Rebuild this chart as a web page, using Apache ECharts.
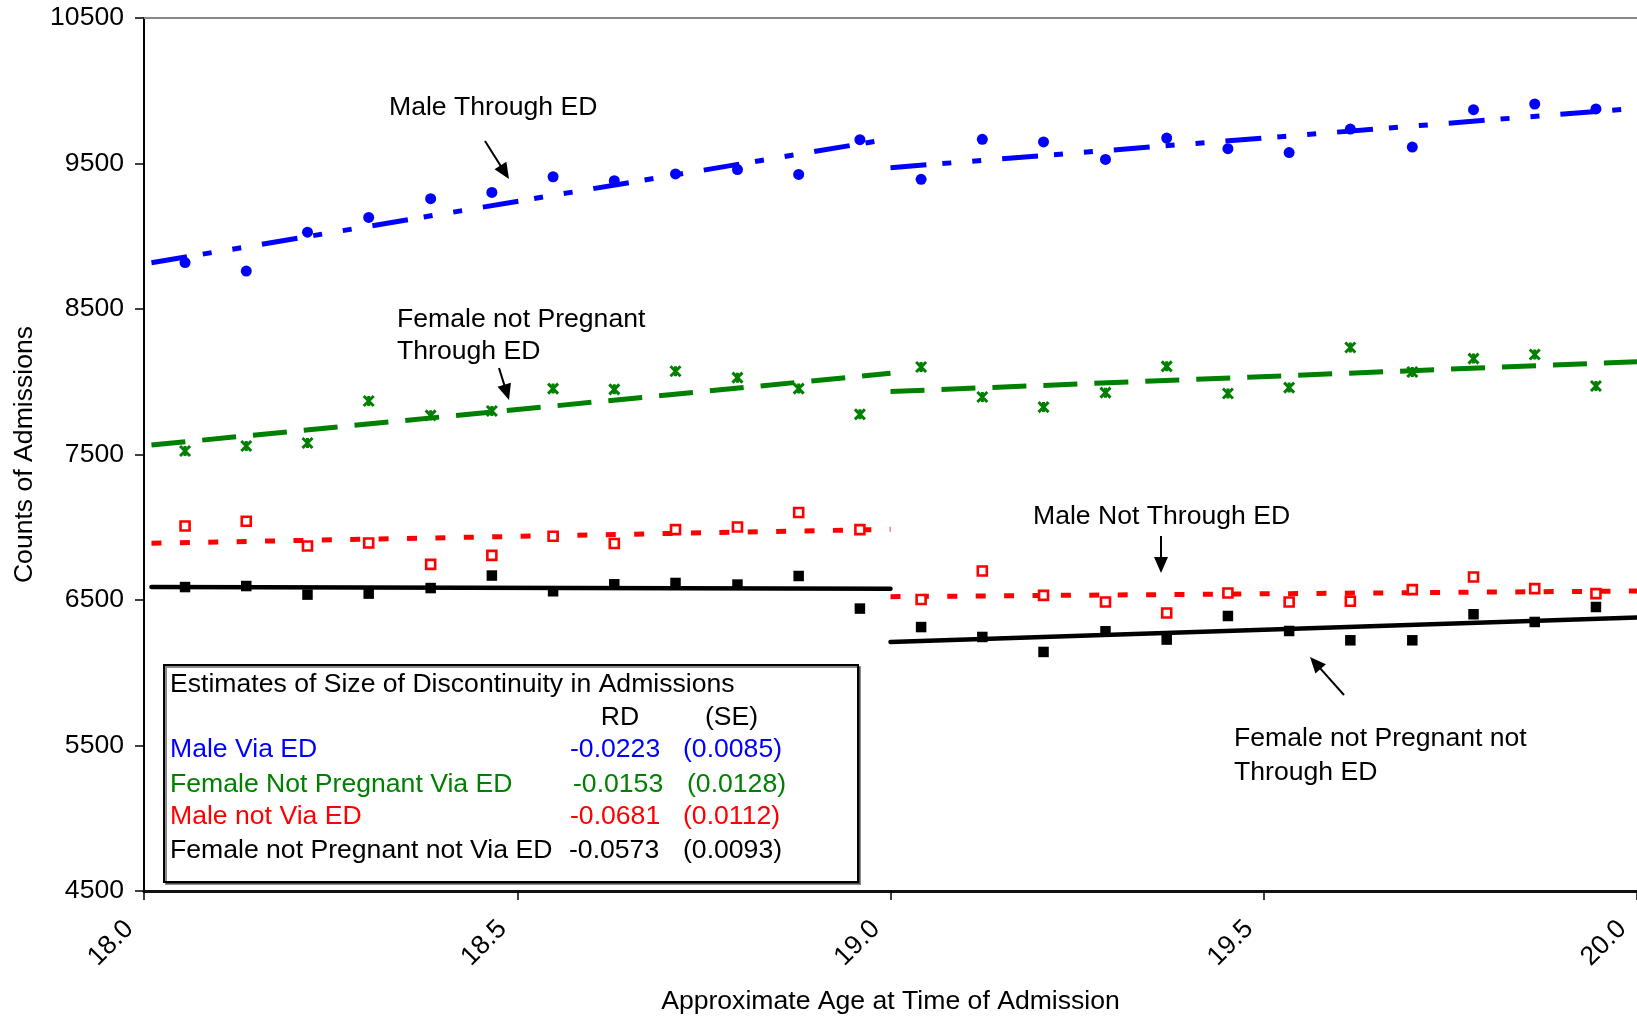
<!DOCTYPE html>
<html><head><meta charset="utf-8">
<script src="https://cdn.jsdelivr.net/npm/echarts@6/dist/echarts.min.js"></script>
<style>html,body{margin:0;padding:0;background:#fff}#c{width:1637px;height:1017px}</style>
</head><body><div id="c"></div>
<script>
// ---------- data ----------
const ages = [18.055, 18.137, 18.219, 18.301, 18.384, 18.466, 18.548, 18.630, 18.712, 18.795, 18.877, 18.959,
              19.041, 19.123, 19.205, 19.288, 19.370, 19.452, 19.534, 19.616, 19.699, 19.781, 19.863, 19.945];
const maleViaED     = [8819, 8761, 9028, 9129, 9258, 9301, 9409, 9382, 9428, 9458, 9425, 9664,
                       9391, 9666, 9648, 9528, 9675, 9602, 9575, 9737, 9613, 9870, 9909, 9875];
const femaleViaED   = [7524, 7558, 7579, 7868, 7769, 7799, 7953, 7948, 8072, 8028, 7953, 7776,
                       8101, 7895, 7826, 7925, 8106, 7919, 7960, 8235, 8067, 8159, 8187, 7971];
const maleNotED     = [7009, 7041, 6871, 6892, 6745, 6807, 6938, 6888, 6984, 7002, 7101, 6984,
                       6503, 6699, 6532, 6486, 6411, 6548, 6486, 6491, 6571, 6658, 6578, 6544];
const femaleNotED   = [6589, 6596, 6537, 6544, 6582, 6668, 6560, 6608, 6617, 6606, 6665, 6441,
                       6314, 6246, 6143, 6285, 6228, 6390, 6287, 6223, 6223, 6402, 6349, 6452];

const fitLeftX  = [18.01, 19.0];
const fitRightX = [19.0, 20.0];
const maleViaEDFitL   = [8818, 9670];
const maleViaEDFitR   = [9471, 9880];
const femaleViaEDFitL = [7565, 8058];
const femaleViaEDFitR = [7933, 8138];
const maleNotEDFitL   = [6890, 6986];
const maleNotEDFitR   = [6523, 6562];
const femaleNotEDFitL = [6589, 6578];
const femaleNotEDFitR = [6211, 6380];

const yTicks = [4500, 5500, 6500, 7500, 8500, 9500, 10500];
const xTicks = [18.0, 18.5, 19.0, 19.5, 20.0];

const tableTitle = 'Estimates of Size of Discontinuity in Admissions';
const tableHead = ['RD', '(SE)'];
const tableGroups = ['Male Via ED', 'Female Not Pregnant Via ED', 'Male not Via ED', 'Female not Pregnant not Via ED'];
const tableRD = ['-0.0223', '-0.0153', '-0.0681', '-0.0573'];
const tableSE = ['(0.0085)', '(0.0128)', '(0.0112)', '(0.0093)'];

// ---------- styling ----------
const FONT = '"Liberation Sans", Arial, sans-serif';
const FS = 26.6;
const C_BLUE = '#0000ff', C_GREEN = '#008000', C_RED = '#ff0000', C_BLACK = '#000000';
const rowColors = [C_BLUE, C_GREEN, C_RED, C_BLACK];

function pts(xs, ys) { return xs.map((x, i) => [x, ys[i]]); }
function fit(name, xs, ys, color, dash, width, cap) {
  return { name, type: 'line', data: pts(xs, ys), symbol: 'none', silent: true, z: 2,
    lineStyle: { color, width, type: dash, cap: cap || 'butt', opacity: 1 } };
}
function txt(text, x, y, color, align) {
  return { type: 'text', z: 100, style: { text, x, y, fill: color || '#000', font: FS + 'px ' + FONT,
    align: align || 'left', verticalAlign: 'middle' } };
}
function arrow(x1, y1, x2, y2) {
  const dx = x2 - x1, dy = y2 - y1, L = Math.hypot(dx, dy), ux = dx / L, uy = dy / L;
  const hl = 16, hw = 7;
  const bx = x2 - ux * hl, by = y2 - uy * hl;
  return [
    { type: 'line', z: 100, shape: { x1, y1, x2: bx + ux * 2, y2: by + uy * 2 }, style: { stroke: '#000', lineWidth: 2 } },
    { type: 'polygon', z: 100, shape: { points: [[x2, y2], [bx - uy * hw, by + ux * hw], [bx + uy * hw, by - ux * hw]] },
      style: { fill: '#000' } }
  ];
}

const tableRowY = [749.7, 784.3, 816.8, 851];
const rdX = [570, 573, 570, 569];
const seX = [683, 687, 683, 683];

const graphics = [
  txt('Male Through ED', 389, 107.5),
  ...arrow(485, 141, 509, 179),
  txt('Female not Pregnant', 397, 320),
  txt('Through ED', 397, 352),
  ...arrow(499, 368, 509, 400),
  txt('Male Not Through ED', 1033, 517),
  ...arrow(1161, 536, 1161, 573),
  txt('Female not Pregnant not', 1234, 739),
  txt('Through ED', 1234, 772.5),
  ...arrow(1344, 695, 1310, 657),
  { type: 'rect', z: 90, shape: { x: 164, y: 665, width: 694, height: 217 },
    style: { fill: '#fff', stroke: '#000', lineWidth: 2, shadowColor: 'rgba(0,0,0,0.45)', shadowOffsetX: 2, shadowOffsetY: 2, shadowBlur: 0 } },
  txt(tableTitle, 170, 684.5),
  txt(tableHead[0], 620, 717.5, '#000', 'center'),
  txt(tableHead[1], 731.5, 717.5, '#000', 'center')
];
tableGroups.forEach((g, i) => {
  graphics.push(txt(g, 170, tableRowY[i], rowColors[i]));
  graphics.push(txt(tableRD[i], rdX[i], tableRowY[i], rowColors[i]));
  graphics.push(txt(tableSE[i], seX[i], tableRowY[i], rowColors[i]));
});

const chart = echarts.init(document.getElementById('c'), null, { renderer: 'canvas' });
chart.setOption({
  animation: false,
  backgroundColor: '#fff',
  textStyle: { fontFamily: FONT },
  grid: { left: 144, right: 0, top: 18, bottom: 126, containLabel: false, outerBoundsMode: 'none' },
  xAxis: [{
    type: 'value', min: 18, max: 20, interval: 0.5, position: 'bottom',
    name: 'Approximate Age at Time of Admission', nameLocation: 'middle', nameGap: 97,
    nameTextStyle: { color: '#000', fontSize: FS, fontFamily: FONT },
    axisLine: { show: true, onZero: false, lineStyle: { color: '#111', width: 3 } },
    axisTick: { show: true, length: 9, lineStyle: { color: '#000', width: 1.5 } },
    axisLabel: { show: true, rotate: 45, margin: 19, color: '#000', fontSize: FS, fontFamily: FONT,
      padding: [0, 21, 0, 0], showMinLabel: true, showMaxLabel: true,
      formatter: v => Number(v).toFixed(1) },
    splitLine: { show: false }
  }, {
    type: 'value', min: 18, max: 20, position: 'top',
    axisLine: { show: true, onZero: false, lineStyle: { color: '#888', width: 2 } },
    axisTick: { show: false }, axisLabel: { show: false }, splitLine: { show: false }
  }],
  yAxis: {
    type: 'value', min: 4500, max: 10500,
    name: 'Counts of Admissions', nameLocation: 'middle', nameGap: 106,
    nameTextStyle: { color: '#000', fontSize: FS, fontFamily: FONT },
    axisLine: { show: true, onZero: false, lineStyle: { color: '#000', width: 2 } },
    axisTick: { show: true, length: 9, customValues: yTicks, lineStyle: { color: '#000', width: 1.5 } },
    axisLabel: { show: true, margin: 20, color: '#000', fontSize: FS, fontFamily: FONT, customValues: yTicks,
      formatter: v => String(v) },
    splitLine: { show: false }
  },
  series: [
    fit('Male via ED fit L', fitLeftX, maleViaEDFitL, C_BLUE, [36, 16, 9, 21, 9, 21], 5),
    fit('Male via ED fit R', fitRightX, maleViaEDFitR, C_BLUE, [36, 16, 9, 21, 9, 21], 5),
    fit('Female via ED fit L', fitLeftX, femaleViaEDFitL, C_GREEN, [34, 17], 5),
    fit('Female via ED fit R', fitRightX, femaleViaEDFitR, C_GREEN, [34, 17], 5),
    fit('Male not ED fit L', fitLeftX, maleNotEDFitL, C_RED, [10, 18.4], 5),
    fit('Male not ED fit R', fitRightX, maleNotEDFitR, C_RED, [10, 18.4], 5),
    fit('Female not ED fit L', fitLeftX, femaleNotEDFitL, C_BLACK, 'solid', 4.5, 'round'),
    fit('Female not ED fit R', fitRightX, femaleNotEDFitR, C_BLACK, 'solid', 4.5, 'round'),
    { name: 'Male via ED', type: 'scatter', data: pts(ages, maleViaED), symbol: 'circle', symbolSize: 11, z: 3,
      itemStyle: { color: C_BLUE, opacity: 1 } },
    { name: 'Female not pregnant via ED', type: 'scatter', data: pts(ages, femaleViaED),
      symbol: 'path://M0 0L10 10M10 0L0 10M5 0L5 10', symbolSize: 10, z: 3,
      itemStyle: { color: C_GREEN, borderColor: C_GREEN, borderWidth: 3, opacity: 1 } },
    { name: 'Male not via ED', type: 'scatter', data: pts(ages, maleNotED), symbol: 'rect', symbolSize: 9, z: 3,
      itemStyle: { color: '#fff', borderColor: C_RED, borderWidth: 2.6, opacity: 1 } },
    { name: 'Female not pregnant not via ED', type: 'scatter', data: pts(ages, femaleNotED), symbol: 'rect', symbolSize: 10.5, z: 3,
      itemStyle: { color: C_BLACK, opacity: 1 } }
  ],
  graphic: graphics
});
</script>
</body></html>
